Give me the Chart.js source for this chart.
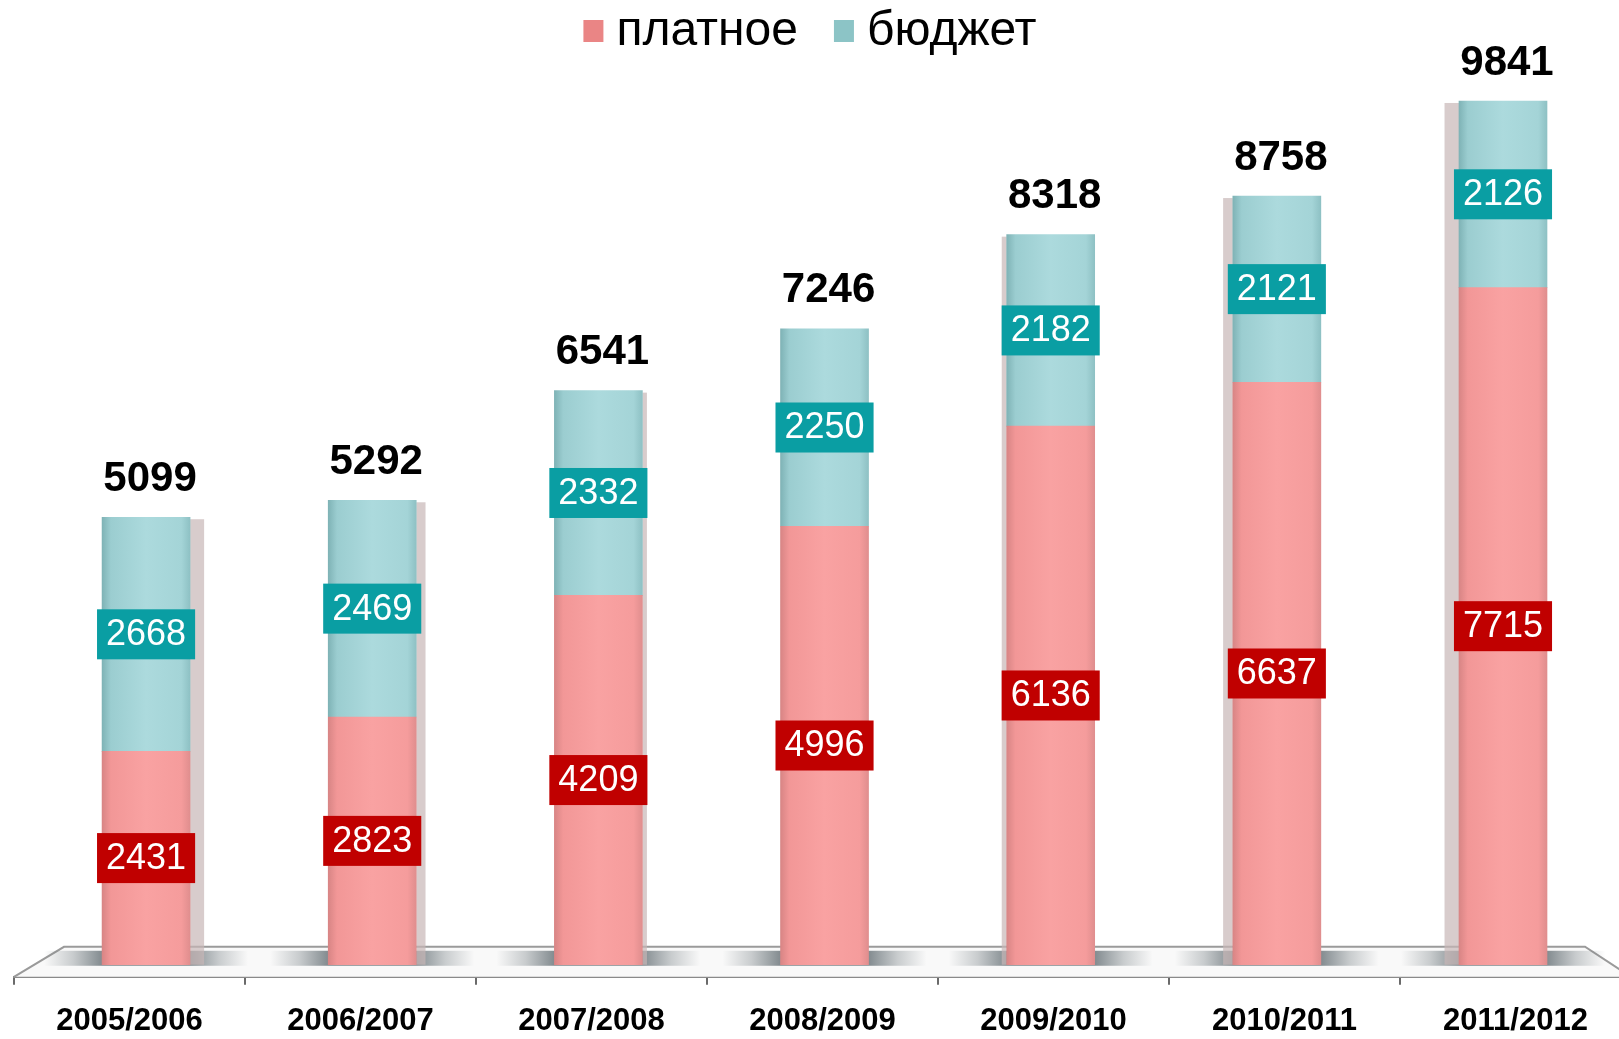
<!DOCTYPE html>
<html>
<head>
<meta charset="utf-8">
<script src="https://cdn.jsdelivr.net/npm/chart.js@4.4.1/dist/chart.umd.min.js"></script>
<style>
  html, body { margin: 0; padding: 0; background: #fff; overflow: hidden; }
  #wrap { width: 1633px; height: 1039px; }
</style>
</head>
<body>
<div id="wrap"><canvas id="barchart"></canvas></div>
<script>
// data
const categories = ['2005/2006', '2006/2007', '2007/2008', '2008/2009', '2009/2010', '2010/2011', '2011/2012'];
const paidValues = [2431, 2823, 4209, 4996, 6136, 6637, 7715];     // платное
const budgetValues = [2668, 2469, 2332, 2250, 2182, 2121, 2126];   // бюджет
const seriesNames = ['платное', 'бюджет'];
const legendColors = ['#ea8585', '#8cc4c6'];

Chart.defaults.font.family = '"Liberation Sans", Arial, sans-serif';

const BAR_W = 88;

function barFill(stops, solid) {
    return function (ctx) {
        const chart = ctx.chart;
        if (ctx.type !== 'data' || !chart.chartArea) return solid;
        const cx = chart.scales.xb.getPixelForValue(ctx.dataIndex);
        const g = chart.ctx.createLinearGradient(cx - BAR_W / 2, 0, cx + BAR_W / 2, 0);
        stops.forEach(s => g.addColorStop(s[0], s[1]));
        return g;
    };
}

// floor + side faces of the "3d" columns
const floorPlugin = {
    id: 'floor',
    beforeDatasetsDraw(chart) {
        const c = chart.ctx, a = chart.chartArea;
        const zeroY = chart.scales.y.getPixelForValue(0);
        const backY = zeroY - 18;
        c.save();
        c.fillStyle = '#f9f9f9';
        c.beginPath();
        c.moveTo(a.left, a.bottom);
        c.lineTo(a.left + 50, backY);
        c.lineTo(a.right - 46, backY);
        c.lineTo(a.right, a.bottom);
        c.closePath();
        c.fill();
        c.strokeStyle = '#9a9a9a';
        c.lineWidth = 2;
        c.beginPath();
        c.moveTo(a.left, a.bottom);
        c.lineTo(a.left + 50, backY);
        c.lineTo(a.right - 46, backY);
        c.lineTo(a.right, a.bottom);
        c.stroke();
        const low = chart.getDatasetMeta(0).data;
        const top = chart.getDatasetMeta(1).data;
        const mid = (a.left + a.right) / 2 - 8;
        const sw = 58;
        top.forEach((el, i) => {
            // soft shadow on the floor
            const x0s = el.x - BAR_W / 2 - sw, full = BAR_W + 2 * sw;
            const sg = c.createLinearGradient(x0s, 0, x0s + full, 0);
            const e = sw / full;
            sg.addColorStop(0, 'rgba(110,120,125,0)');
            sg.addColorStop(e * 0.5, 'rgba(110,120,125,0.35)');
            sg.addColorStop(e, 'rgba(110,120,125,0.85)');
            sg.addColorStop(1 - e, 'rgba(110,120,125,0.85)');
            sg.addColorStop(1 - e * 0.5, 'rgba(110,120,125,0.35)');
            sg.addColorStop(1, 'rgba(110,120,125,0)');
            c.fillStyle = sg;
            c.fillRect(x0s, backY + 4, full, zeroY - backY - 3);
            // side face
            const d = (mid - el.x) / ((a.right - a.left) / 2) * 17;
            const x0 = el.x + Math.sign(d) * BAR_W / 2;
            c.fillStyle = 'rgba(200,182,182,0.7)';
            c.fillRect(Math.min(x0, x0 + d), el.y + 2, Math.abs(d), low[i].base - el.y - 2);
        });
        c.restore();
    }
};

// value boxes inside the segments, totals on top, legend
const labelPlugin = {
    id: 'valueLabels',
    afterDatasetsDraw(chart) {
        const c = chart.ctx;
        const boxColors = ['#c00000', '#0a9ea3'];
        c.save();
        c.textAlign = 'center';
        c.textBaseline = 'middle';
        chart.data.datasets.forEach((ds, di) => {
            chart.getDatasetMeta(di).data.forEach((el, i) => {
                const txt = String(ds.data[i].y);
                const cy = (el.y + el.base) / 2;
                c.font = '36px "Liberation Sans", Arial, sans-serif';
                const w = c.measureText(txt).width + 18;
                c.fillStyle = boxColors[di];
                c.fillRect(el.x - w / 2, cy - 25, w, 50);
                c.fillStyle = '#fff';
                c.fillText(txt, el.x, cy + 1);
            });
        });
        const topMeta = chart.getDatasetMeta(chart.data.datasets.length - 1);
        c.font = 'bold 42px "Liberation Sans", Arial, sans-serif';
        c.fillStyle = '#000';
        topMeta.data.forEach((el, i) => {
            const total = paidValues[i] + budgetValues[i];
            c.fillText(String(total), el.x + 4, el.y - 38);
        });

        // legend
        c.font = '48px "Liberation Sans", Arial, sans-serif';
        c.textAlign = 'left';
        const widths = seriesNames.map(n => c.measureText(n).width);
        const total = widths.reduce((s, w) => s + 20 + 13 + w, 0) + 36;
        let x = 816 - total / 2 - 6;
        const ly = 31;
        seriesNames.forEach((n, i) => {
            c.fillStyle = legendColors[i];
            c.fillRect(x, ly - 11, 20, 22);
            c.fillStyle = '#000';
            c.fillText(n, x + 33, ly + 1);
            x += 20 + 13 + widths[i] + 36;
        });
        c.restore();
    }
};

const ctx = document.getElementById('barchart').getContext('2d');
const barchart = new Chart(ctx, {
    type: 'bar',
    data: {
        labels: categories,
        datasets: [{
            label: seriesNames[0],
            data: paidValues.map((v, i) => ({ x: i, y: v })),
            xAxisID: 'xb',
            backgroundColor: barFill([[0, '#d88585'], [0.1, '#f29797'], [0.5, '#f9a2a2'], [0.9, '#f59c9c'], [1, '#e08e8e']], legendColors[0]),
            barThickness: BAR_W
        }, {
            label: seriesNames[1],
            data: budgetValues.map((v, i) => ({ x: i, y: v })),
            xAxisID: 'xb',
            backgroundColor: barFill([[0, '#7fb3b6'], [0.1, '#9bcdd0'], [0.5, '#acdadd'], [0.9, '#a4d4d7'], [1, '#8ec1c4']], legendColors[1]),
            barThickness: BAR_W
        }]
    },
    options: {
        responsive: true,
        maintainAspectRatio: false,
        animation: false,
        layout: { padding: { left: 14, right: 2, top: 70, bottom: -19 } },
        plugins: {
            legend: { display: false },
            tooltip: { enabled: false }
        },
        scales: {
            x: {
                type: 'category',
                position: 'bottom',
                offset: true,
                grid: {
                    display: true,
                    offset: true,
                    drawOnChartArea: false,
                    tickLength: 8,
                    color: '#6a6a6a',
                    lineWidth: 2
                },
                border: { display: true, color: '#8a8a8a', width: 2 },
                ticks: {
                    color: '#000',
                    padding: 18,
                    font: { size: 31, weight: 'bold' }
                }
            },
            xb: {
                type: 'linear',
                axis: 'x',
                position: 'bottom',
                display: false,
                offset: false,
                stacked: true,
                min: -0.584,
                max: 6.566
            },
            y: {
                stacked: true,
                display: false,
                min: -137,
                max: 10194
            }
        }
    },
    plugins: [floorPlugin, labelPlugin]
});
</script>
</body>
</html>
